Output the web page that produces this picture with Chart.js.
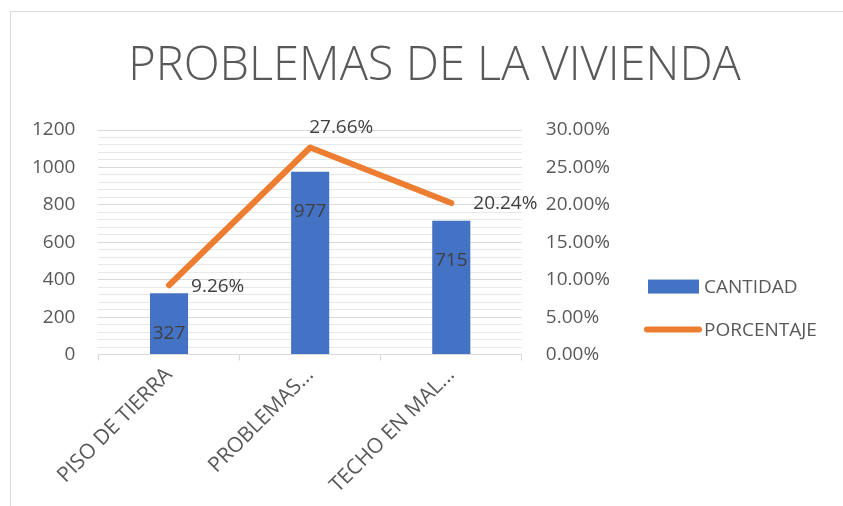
<!DOCTYPE html>
<html>
<head>
<meta charset="utf-8">
<script src="https://cdn.jsdelivr.net/npm/chart.js@4"></script>
<style>
  body { margin: 0; background: #fff; }
  #frame { position: absolute; left: 10px; top: 11px; width: 900px; height: 600px;
           border-left: 1px solid #d9d9d9; border-top: 1px solid #d9d9d9; }
  #wrap { position: absolute; left: 0; top: 0; width: 843px; height: 506px; }
</style>
</head>
<body>
<div id="frame"></div>
<div id="wrap"><canvas id="chart"></canvas></div>
<script>
// Data
const categories = ['PISO DE TIERRA', 'PROBLEMAS...', 'TECHO EN MAL...'];
const cantidad = [327, 977, 715];
const porcentaje = [0.0926, 0.2766, 0.2024];
const leftTicks = [0, 200, 400, 600, 800, 1000, 1200];

const FONT = "'Open Sans', sans-serif";
const TEXT = '#595959';
const BLUE = '#4472C4';
const ORANGE = '#ED7D31';

// Title, legend and value labels are drawn by hand, Excel style
const extrasPlugin = {
    id: 'extras',
    afterDraw(chart) {
        const ctx = chart.ctx;
        const area = chart.chartArea;
        ctx.save();

        // title
        ctx.font = '300 47px ' + FONT;
        ctx.fillStyle = TEXT;
        ctx.textAlign = 'center';
        ctx.textBaseline = 'middle';
        ctx.fillText('PROBLEMAS DE LA VIVIENDA', chart.width / 2 + 13, 67);

        // legend, right of the secondary axis
        const lx = chart.scales.y1.right + 10;
        const rows = [area.bottom - 68, area.bottom - 25];
        ctx.font = '19px ' + FONT;
        ctx.textAlign = 'left';
        ctx.fillStyle = BLUE;
        ctx.fillRect(lx + 4, rows[0] - 7, 51, 14);
        ctx.strokeStyle = ORANGE;
        ctx.lineWidth = 6;
        ctx.lineCap = 'round';
        ctx.beginPath();
        ctx.moveTo(lx + 3, rows[1]);
        ctx.lineTo(lx + 55, rows[1]);
        ctx.stroke();
        ctx.fillStyle = TEXT;
        ctx.fillText(chart.data.datasets[0].label, lx + 60, rows[0] + 1);
        ctx.fillText(chart.data.datasets[1].label, lx + 60, rows[1] + 1);

        // bar values, a little inside the top of each bar
        ctx.font = '19px ' + FONT;
        ctx.fillStyle = '#404040';
        chart.getDatasetMeta(0).data.forEach((bar, i) => {
            ctx.textAlign = 'center';
            ctx.fillText(cantidad[i], bar.x, bar.y + 40);
        });

        // percentages right of the points, the peak goes above
        const maxVal = Math.max(...porcentaje);
        chart.getDatasetMeta(1).data.forEach((pt, i) => {
            const txt = (porcentaje[i] * 100).toFixed(2) + '%';
            ctx.textAlign = 'left';
            if (porcentaje[i] === maxVal) {
                ctx.fillText(txt, pt.x - 1, pt.y - 20);
            } else {
                ctx.fillText(txt, pt.x + 22, pt.y + 1);
            }
        });
        ctx.restore();
    }
};

const ctx = document.getElementById('chart').getContext('2d');
const chart = new Chart(ctx, {
    type: 'bar',
    data: {
        labels: categories,
        datasets: [{
            label: 'CANTIDAD',
            data: cantidad,
            backgroundColor: BLUE,
            borderWidth: 0,
            yAxisID: 'y',
            categoryPercentage: 1,
            barPercentage: 0.27,
            order: 2
        }, {
            type: 'line',
            label: 'PORCENTAJE',
            data: porcentaje,
            borderColor: ORANGE,
            backgroundColor: ORANGE,
            borderWidth: 6,
            borderCapStyle: 'round',
            borderJoinStyle: 'round',
            pointRadius: 0,
            tension: 0,
            yAxisID: 'y1',
            order: 1
        }]
    },
    options: {
        responsive: true,
        maintainAspectRatio: false,
        animation: false,
        layout: { padding: { left: 9, right: 209, top: 130, bottom: 6 } },
        scales: {
            x: {
                grid: { display: true, drawOnChartArea: false, drawTicks: true, tickLength: 6, color: '#d9d9d9', offset: true },
                border: { display: true, color: '#d9d9d9' },
                ticks: { color: TEXT, font: { family: FONT, size: 21 }, minRotation: 45, maxRotation: 45, padding: 2 }
            },
            y: {
                position: 'left',
                min: 0,
                max: 1200,
                border: { display: false },
                grid: {
                    drawTicks: false,
                    color: c => (leftTicks.includes(c.tick.value) ? '#d9d9d9' : '#e8e8e8')
                },
                ticks: {
                    stepSize: 40,
                    autoSkip: false,
                    padding: 23,
                    color: TEXT,
                    font: { family: FONT, size: 19 },
                    callback: v => (leftTicks.includes(v) ? String(v) : '')
                }
            },
            y1: {
                position: 'right',
                min: 0,
                max: 0.3,
                border: { display: false },
                grid: { display: false, drawTicks: false },
                ticks: {
                    stepSize: 0.05,
                    padding: 24,
                    color: TEXT,
                    font: { family: FONT, size: 19 },
                    callback: v => (v * 100).toFixed(2) + '%'
                }
            }
        },
        plugins: {
            title: { display: false },
            legend: { display: false },
            tooltip: { enabled: false }
        }
    },
    plugins: [extrasPlugin]
});
</script>
</body>
</html>
